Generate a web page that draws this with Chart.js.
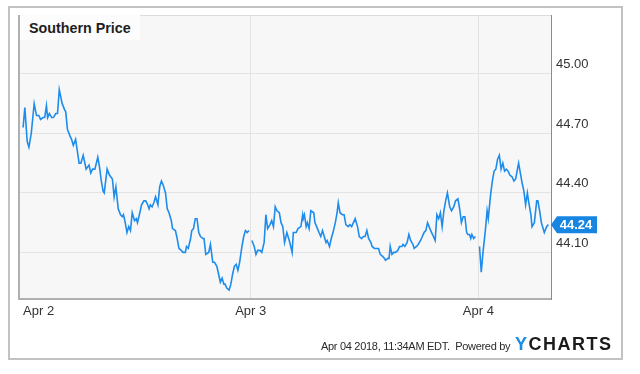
<!DOCTYPE html>
<html>
<head>
<meta charset="utf-8">
<script src="https://cdn.jsdelivr.net/npm/chart.js@4.4.1/dist/chart.umd.min.js"></script>
<style>
html,body{margin:0;padding:0;background:#fff;}
#wrap{position:relative;width:640px;height:374px;overflow:hidden;font-family:"Liberation Sans",Arial,Helvetica,sans-serif;}
#c{position:absolute;left:0;top:0;}
#frame{position:absolute;left:8px;top:6px;width:615px;height:354px;box-sizing:border-box;border:2px solid #c2c2c2;pointer-events:none;}
#title{position:absolute;left:20px;top:15px;width:120px;height:25px;background:#fcfcfc;font-weight:bold;font-size:14.3px;color:#1e1e1e;line-height:27px;padding-left:9px;box-sizing:border-box;overflow:hidden;white-space:nowrap;}
#footer{position:absolute;left:321px;top:340px;font-size:11px;line-height:13px;color:#2a2a2a;letter-spacing:-0.3px;white-space:pre;}
#logo{position:absolute;left:515px;top:335px;font-size:18px;line-height:18px;font-weight:bold;letter-spacing:1.5px;white-space:nowrap;color:#1b1b1b;}
#logo .y{color:#1a8ce3;}
</style>
</head>
<body>
<div id="wrap">
  <canvas id="c" width="640" height="374"></canvas>
  <div id="frame"></div>
  <div id="title">Southern Price</div>
  <div id="footer">Apr 04 2018, 11:34AM EDT.  Powered by</div>
  <div id="logo"><span class="y">Y</span>CHARTS</div>
</div>
<script>
// ---- data (minutes after the 9:30 open of each session, price in USD) ----
const dayLabels = ['Apr 2', 'Apr 3', 'Apr 4'];
const sessionLength = 390; // minutes in a trading session
const yTicks = [44.10, 44.40, 44.70, 45.00];

const apr2Minutes = [0,3,7,10,14,19,23,27,30,34,37,40,42,45,49,52,56,59,62,67,71,73,76,80,83,86,90,93,96,99,103,108,113,116,119,123,128,131,134,137,139,144,148,153,156,159,163,167,170,172,175,178,181,184,187,191,194,196,200,203,207,210,212,216,218,221,224,227,231,234,237,240,244,247,250,254,256,261,264,267,271,274,278,280,283,287,289,292,295,298,301,304,308,310,313,318,321,325,328,332,335,338,341,344,346,349,353,356,359,362,365,368,371,375,378,381,384,387];
const apr2Prices = [44.73,44.83,44.66,44.63,44.70,44.85,44.79,44.79,44.77,44.78,44.78,44.84,44.78,44.80,44.78,44.78,44.80,44.80,44.92,44.85,44.82,44.81,44.72,44.69,44.67,44.64,44.67,44.61,44.55,44.55,44.59,44.52,44.54,44.50,44.52,44.52,44.58,44.53,44.46,44.41,44.40,44.52,44.49,44.47,44.38,44.43,44.32,44.29,44.28,44.29,44.25,44.20,44.23,44.21,44.30,44.26,44.27,44.25,44.30,44.34,44.36,44.36,44.35,44.32,44.34,44.33,44.35,44.38,44.34,44.43,44.46,44.44,44.40,44.32,44.30,44.26,44.22,44.21,44.17,44.12,44.11,44.10,44.10,44.13,44.12,44.17,44.21,44.22,44.27,44.27,44.20,44.18,44.17,44.17,44.09,44.10,44.14,44.05,44.05,44.03,43.99,43.95,43.97,43.94,43.94,43.92,43.91,43.94,43.99,44.03,44.04,44.01,44.05,44.13,44.18,44.21,44.20,44.21];

const apr3Minutes = [2,6,9,12,16,19,23,26,29,33,36,39,42,45,49,52,55,58,62,64,67,71,73,78,81,86,89,90,92,95,97,100,103,108,110,113,117,120,123,126,129,131,135,138,141,145,148,150,153,157,160,163,167,170,173,176,179,183,186,190,193,196,199,202,206,208,212,215,219,222,226,229,231,235,237,239,242,245,248,252,255,259,261,264,268,271,274,278,280,284,287,291,294,297,300,303,307,310,313,316,319,322,325,328,331,334,337,341,344,348,351,355,358,361,364,367,370,372,375,377,379,382,385];
const apr3Prices = [44.16,44.13,44.09,44.11,44.11,44.10,44.15,44.29,44.22,44.24,44.26,44.23,44.33,44.31,44.30,44.25,44.23,44.15,44.20,44.18,44.15,44.10,44.20,44.20,44.22,44.23,44.29,44.27,44.29,44.23,44.25,44.22,44.31,44.30,44.25,44.23,44.20,44.18,44.21,44.18,44.15,44.16,44.13,44.17,44.20,44.25,44.30,44.35,44.30,44.29,44.29,44.24,44.23,44.24,44.23,44.25,44.27,44.23,44.18,44.17,44.18,44.18,44.21,44.17,44.15,44.13,44.12,44.12,44.12,44.09,44.08,44.07,44.06,44.07,44.07,44.13,44.09,44.10,44.10,44.11,44.13,44.13,44.14,44.13,44.15,44.19,44.16,44.14,44.12,44.13,44.14,44.16,44.18,44.20,44.21,44.25,44.22,44.20,44.18,44.16,44.29,44.27,44.30,44.23,44.31,44.36,44.40,44.33,44.31,44.33,44.36,44.37,44.32,44.25,44.28,44.28,44.20,44.19,44.19,44.17,44.19,44.17,44.18];

const apr4Minutes = [2,5,8,12,15,17,21,24,27,30,33,36,39,42,45,48,51,54,58,61,64,67,69,72,75,78,81,84,86,90,92,96,100,102,105,108,113,117,120];
const apr4Prices = [44.13,44.00,44.10,44.21,44.31,44.27,44.39,44.46,44.51,44.52,44.57,44.59,44.52,44.55,44.51,44.52,44.51,44.49,44.48,44.46,44.47,44.52,44.55,44.50,44.45,44.41,44.34,44.40,44.36,44.29,44.23,44.25,44.36,44.36,44.31,44.25,44.20,44.23,44.24];

const sessions = [[apr2Minutes, apr2Prices], [apr3Minutes, apr3Prices], [apr4Minutes, apr4Prices]];
const lastPrice = apr4Prices[apr4Prices.length - 1];

// ---- chart ----
const FONT = '"Liberation Sans", Arial, Helvetica, sans-serif';
Chart.defaults.font.family = FONT;
const lineColor = '#1e8ceb';
const X_MIN = -7, X_MAX = 904.5;

const areaPlugin = {
  id: 'area',
  beforeDraw(chart) {
    const {ctx, chartArea: a} = chart;
    ctx.save();
    ctx.fillStyle = '#f7f7f7';
    ctx.fillRect(a.left, a.top, a.right - a.left, a.bottom - a.top);
    ctx.restore();
  },
  afterDraw(chart) {
    const {ctx, chartArea: a} = chart;
    ctx.save();
    ctx.strokeStyle = '#dcdcdc';
    ctx.lineWidth = 1;
    ctx.beginPath();
    ctx.moveTo(a.left, a.top + 0.5);
    ctx.lineTo(a.right, a.top + 0.5);
    ctx.stroke();
    ctx.strokeStyle = '#b0b0b0';
    ctx.lineWidth = 2;
    ctx.beginPath();
    ctx.moveTo(a.left, a.top);
    ctx.lineTo(a.left, a.bottom + 1);
    ctx.stroke();
    ctx.restore();
  }
};

const badgePlugin = {
  id: 'badge',
  afterDraw(chart) {
    const {ctx, chartArea: a, scales} = chart;
    const y = scales.y.getPixelForValue(lastPrice);
    const x0 = a.right;
    ctx.save();
    ctx.fillStyle = '#1786e3';
    ctx.beginPath();
    ctx.moveTo(x0, y);
    ctx.lineTo(x0 + 6, y - 8.5);
    ctx.lineTo(x0 + 46, y - 8.5);
    ctx.lineTo(x0 + 46, y + 8.5);
    ctx.lineTo(x0 + 6, y + 8.5);
    ctx.closePath();
    ctx.fill();
    ctx.fillStyle = '#ffffff';
    ctx.font = 'bold 13px ' + FONT;
    ctx.textAlign = 'center';
    ctx.textBaseline = 'middle';
    ctx.fillText(lastPrice.toFixed(2), x0 + 25, y + 0.5);
    ctx.restore();
  }
};

new Chart(document.getElementById('c'), {
  type: 'line',
  data: {
    datasets: sessions.map(([mins, prices], d) => ({
      data: mins.map((m, i) => ({x: d * sessionLength + m, y: prices[i]})),
      borderColor: lineColor,
      borderWidth: 1.6,
      pointRadius: 0,
      tension: 0,
      fill: false
    }))
  },
  options: {
    responsive: false,
    animation: false,
    devicePixelRatio: 1,
    layout: {padding: {left: 19, top: 15, right: 0, bottom: 45}},
    plugins: {legend: {display: false}, tooltip: {enabled: false}, title: {display: false}},
    scales: {
      x: {
        type: 'linear',
        min: X_MIN,
        max: X_MAX,
        afterBuildTicks: s => {
          s.ticks = dayLabels.map((_, d) => ({value: d * sessionLength})).concat([{value: X_MAX}]);
        },
        afterFit: s => { s.height = 30; },
        ticks: {
          align: 'inner',
          autoSkip: false,
          maxRotation: 0,
          padding: 5,
          color: '#333',
          font: {size: 13},
          callback: (v, i) => (i < dayLabels.length ? dayLabels[i] : '')
        },
        grid: {
          drawTicks: false,
          lineWidth: 1,
          color: c => (c.tick && (c.tick.value === 0 || c.tick.value === X_MAX)) ? 'rgba(0,0,0,0)' : '#e3e3e3'
        },
        border: {display: true, color: '#b0b0b0', width: 2}
      },
      y: {
        position: 'right',
        min: 43.865,
        max: 45.297,
        afterBuildTicks: s => { s.ticks = yTicks.map(v => ({value: v})); },
        afterFit: s => { s.width = 89; },
        ticks: {
          padding: 5,
          labelOffset: -9,
          color: '#333',
          font: {size: 13},
          callback: v => Number(v).toFixed(2)
        },
        grid: {drawTicks: false, color: '#e3e3e3', lineWidth: 1},
        border: {display: true, color: '#8c8c8c', width: 1}
      }
    }
  },
  plugins: [areaPlugin, badgePlugin]
});
</script>
</body>
</html>
